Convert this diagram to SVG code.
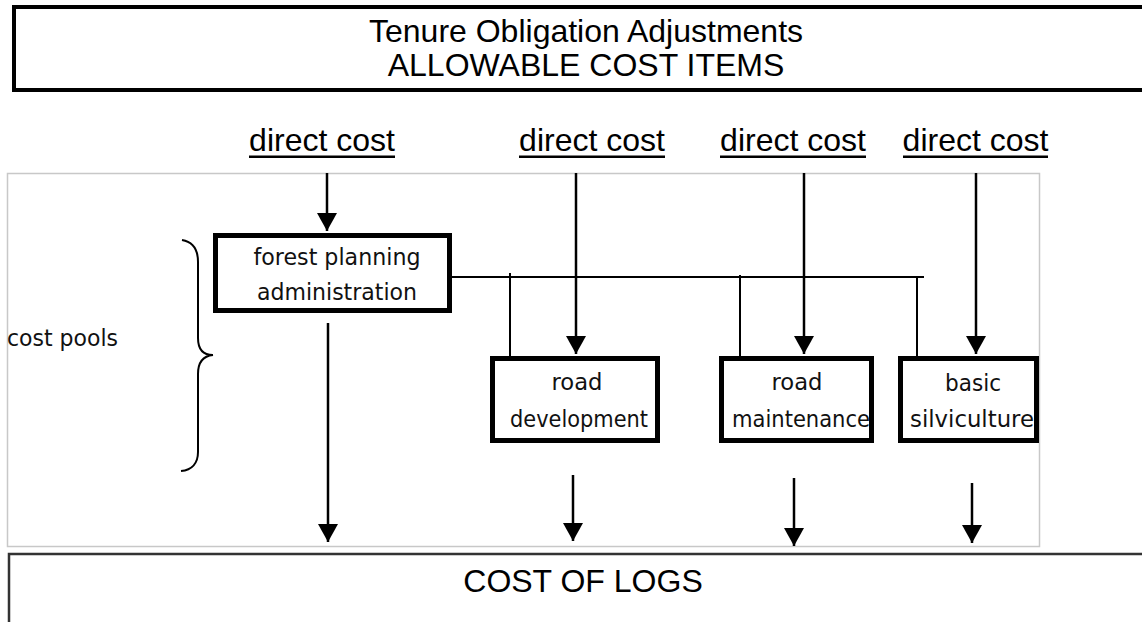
<svg xmlns="http://www.w3.org/2000/svg" width="1142" height="622" viewBox="0 0 1142 622">
  <style>
    .arial { font-family: "Liberation Sans", Arial, sans-serif; fill: #000; }
    .title { font-size: 32px; text-anchor: middle; }
    .dc { font-size: 32px; text-anchor: middle; }
    .hand { font-family: "DejaVu Sans", "Noto Sans", sans-serif; font-size: 23px; fill: #111; }
    .mid { text-anchor: middle; }
    .pool { fill: #fff; stroke: #000; stroke-width: 5; }
    .conn { stroke: #000; stroke-width: 2.5; fill: none; }
    .thin { stroke: #000; stroke-width: 2; fill: none; }
  </style>
  <defs>
    <marker id="ah" viewBox="0 0 18 20" refX="18" refY="10" markerWidth="18" markerHeight="20" markerUnits="userSpaceOnUse" orient="auto">
      <path d="M0,0 L18,10 L0,20 Z" fill="#000"/>
    </marker>
  </defs>
  <rect width="1142" height="622" fill="#fff"/>

  <g id="title">
    <rect x="14" y="7" width="1150" height="83" fill="#fff" stroke="#000" stroke-width="4"/>
    <text class="arial title" x="586" y="42">Tenure Obligation Adjustments</text>
    <text class="arial title" x="586" y="76">ALLOWABLE COST ITEMS</text>
  </g>

  <g id="direct-costs">
    <text class="arial dc" x="322" y="151">direct cost</text>
    <rect x="249" y="155.5" width="146" height="2.5" fill="#000"/>
    <text class="arial dc" x="592" y="151">direct cost</text>
    <rect x="519" y="155.5" width="146" height="2.5" fill="#000"/>
    <text class="arial dc" x="793" y="151">direct cost</text>
    <rect x="720" y="155.5" width="146" height="2.5" fill="#000"/>
    <text class="arial dc" x="975.5" y="151">direct cost</text>
    <rect x="903" y="155.5" width="145" height="2.5" fill="#000"/>
  </g>

  <g id="frame">
    <rect x="7.5" y="173.5" width="1032" height="373" fill="#fff" stroke="#c8c8c8" stroke-width="1.5"/>
  </g>

  <g id="cost-pools">
    <text class="hand" x="7" y="346" textLength="111" lengthAdjust="spacingAndGlyphs">cost pools</text>
    <path class="thin" d="M182,240 C194,242 198,250 198,262 L198,338 C198,350 203,355 213,355 C203,356 198,362 198,374 L198,452 C198,463 192,470 181,471"/>
  </g>

  <g id="connectors">
    <line class="conn" x1="327" y1="173" x2="327" y2="231" marker-end="url(#ah)"/>
    <line class="conn" x1="576" y1="173" x2="576" y2="354" marker-end="url(#ah)"/>
    <line class="conn" x1="804" y1="173" x2="804" y2="354" marker-end="url(#ah)"/>
    <line class="conn" x1="976" y1="173" x2="976" y2="354" marker-end="url(#ah)"/>
    <line class="thin" x1="445" y1="277" x2="924" y2="277"/>
    <line class="thin" x1="510" y1="273" x2="510" y2="363"/>
    <line class="thin" x1="740" y1="275" x2="740" y2="365"/>
    <line class="thin" x1="917" y1="277" x2="917" y2="363"/>
    <line class="conn" x1="328" y1="323" x2="328" y2="542" marker-end="url(#ah)"/>
    <line class="conn" x1="573" y1="475" x2="573" y2="541" marker-end="url(#ah)"/>
    <line class="conn" x1="794" y1="478" x2="794" y2="546" marker-end="url(#ah)"/>
    <line class="conn" x1="972" y1="483" x2="972" y2="543" marker-end="url(#ah)"/>
  </g>

  <g id="forest-planning">
    <rect class="pool" x="215.5" y="235.5" width="234" height="75"/>
    <text class="hand mid" x="337" y="265" textLength="167" lengthAdjust="spacingAndGlyphs">forest planning</text>
    <text class="hand mid" x="337" y="300" textLength="160" lengthAdjust="spacingAndGlyphs">administration</text>
  </g>

  <g id="road-development">
    <rect class="pool" x="492.5" y="358.5" width="165" height="82"/>
    <text class="hand mid" x="577" y="390" textLength="51" lengthAdjust="spacingAndGlyphs">road</text>
    <text class="hand mid" x="579" y="427" textLength="138" lengthAdjust="spacingAndGlyphs">development</text>
  </g>

  <g id="road-maintenance">
    <rect class="pool" x="721.5" y="358.5" width="150" height="82"/>
    <text class="hand mid" x="797" y="390" textLength="51" lengthAdjust="spacingAndGlyphs">road</text>
    <text class="hand mid" x="801" y="427" textLength="138" lengthAdjust="spacingAndGlyphs">maintenance</text>
  </g>

  <g id="basic-silviculture">
    <rect class="pool" x="900.5" y="358.5" width="136" height="82"/>
    <text class="hand mid" x="973" y="391" textLength="56" lengthAdjust="spacingAndGlyphs">basic</text>
    <text class="hand mid" x="972" y="427" textLength="124" lengthAdjust="spacingAndGlyphs">silviculture</text>
  </g>

  <g id="cost-of-logs">
    <rect x="9" y="554" width="1200" height="100" fill="#fff" stroke="#333" stroke-width="2.5"/>
    <text class="arial" x="583" y="592" font-size="32" text-anchor="middle">COST OF LOGS</text>
  </g>
</svg>
